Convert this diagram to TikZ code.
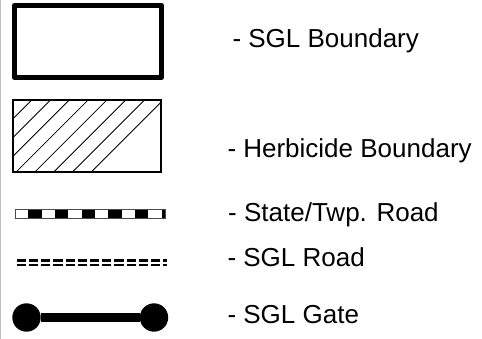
\documentclass[tikz,border=0pt]{standalone}
\usepackage{fontspec}
\setmainfont{Liberation Sans}
\begin{document}
\begin{tikzpicture}[x=1pt,y=-1pt,
 boundary/.style ={draw=black,line width=4.5pt,line join=round},
 herbicide/.style ={draw=black,line width=2pt},
 hatch/.style ={draw=black,line width=.8pt},
 twproad/.style ={draw=black,line width=9pt,dash pattern=on 13.33pt off 13.33pt,dash phase=13.33pt},
 twpedge/.style ={draw=black!70,line width=.9pt},
 sglroad/.style ={draw=black,line width=2.4pt,dash pattern=on 9.2pt off 3pt},
 gatepost/.style ={circle,fill=black,minimum size=28.4pt,inner sep=0pt},
 gateline/.style ={-,draw=black,line width=9pt},
 legendtext/.style ={anchor=base west,inner sep=0pt,font=\fontsize{26}{30}\selectfont}
 ]
\useasboundingbox (0,0) rectangle (482,339);
%draw page edge
\draw[black!25,line width=1pt] (0.5,0) -- (0.5,339);
%draw SGL boundary
\draw[boundary] (14.3,5.3) rectangle (161.7,77.7);
\node[legendtext] (sglbound) at (232.3,47.7) {- SGL Boundary};
%draw herbicide boundary
\begin{scope}
\clip (13,100) rectangle (161,172);
\foreach \k in {-6,...,7}
  \draw[hatch] ({31.7+18.8*\k},100) -- ++(-80,80);
\end{scope}
\draw[herbicide] (13,100) rectangle (161,172);
\node[legendtext] (herbbound) at (227.3,158) {- Herbicide Boundary};
%draw state/twp road
\draw[twproad] (15,213.8) -- (165.7,213.8);
\draw[twpedge] (15,209.3) rectangle (165.7,218.3);
\node[legendtext] (twproadtext) at (228,222) {- State/Twp. Road};
%draw SGL road
\draw[sglroad] (16.7,260.5) -- (166.7,260.5);
\draw[sglroad] (16.7,265.3) -- (166.7,265.3);
\node[legendtext] (sglroadtext) at (227.3,266.7) {- SGL Road};
%draw SGL gate
\node[gatepost] (gateL) at (26.5,317.5) {};
\node[gatepost] (gateR) at (154,317.5) {};
\draw[gateline] (gateL) -- (gateR);
\node[legendtext] (gatetext) at (227.3,323.3) {- SGL Gate};
\end{tikzpicture}
\end{document}
